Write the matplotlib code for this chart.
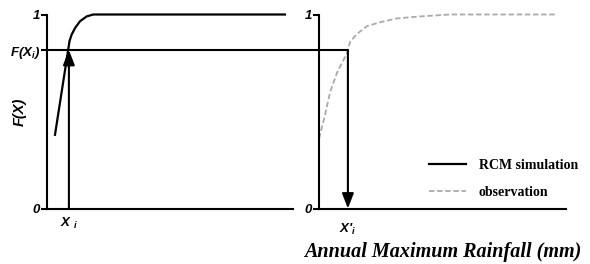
import matplotlib
matplotlib.use("Agg")
import matplotlib.pyplot as plt
from matplotlib.patches import ConnectionPatch
from matplotlib.lines import Line2D

# CDF of RCM simulation (left panel)
sim_x = [3.25, 8.6, 9.15, 10.0, 11.4, 13.4, 16.1, 18.8, 21.5, 96.7]
sim_F = [0.38, 0.817, 0.863, 0.896, 0.93, 0.965, 0.99, 1.0, 1.0, 1.0]

# CDF of observation (right panel)
obs_x = [0, 2.4, 4.5, 7.3, 11.3, 12.6, 15.4, 19.4, 24.7, 31.6, 40.9, 53.0, 96.4]
obs_F = [0.36, 0.48, 0.6, 0.7, 0.8, 0.86, 0.9, 0.94, 0.96, 0.98, 0.99, 1.0, 1.0]

x_i = 8.9        # X_i on the simulation axis
x_i_obs = 11.7   # X'_i on the observation axis
F_xi = 0.817     # F(X_i)

plt.rcParams['font.family'] = ['Liberation Sans', 'DejaVu Sans']
plt.rcParams['mathtext.fontset'] = 'custom'
plt.rcParams['mathtext.it'] = 'Liberation Sans:italic:bold'
plt.rcParams['mathtext.rm'] = 'Liberation Sans:bold'

tick_font = dict(family='Liberation Sans', weight='bold', style='italic', size=9.5)
gray = '#aaaaaa'
arrow = dict(arrowstyle='-|>,head_length=0.9,head_width=0.35',
             color='k', lw=1.5, shrinkA=0, shrinkB=0, mutation_scale=10)

fig = plt.figure(figsize=(5.9, 2.64), dpi=100)
ax1 = fig.add_axes([47 / 590, 55.5 / 264, 246 / 590, 194 / 264])
ax2 = fig.add_axes([319 / 590, 55.5 / 264, 247 / 590, 194 / 264])

for ax in (ax1, ax2):
    ax.set_xlim(0, 100)
    ax.set_ylim(0, 1)
    ax.spines['top'].set_visible(False)
    ax.spines['right'].set_visible(False)
    ax.spines['left'].set_linewidth(1.5)
    ax.spines['bottom'].set_linewidth(1.5)
    ax.tick_params(axis='y', length=4, width=1.5, pad=1)
    ax.tick_params(axis='x', length=0)

# left panel: simulation
ax1.plot(sim_x, sim_F, color='k', lw=1.6, clip_on=False)
ax1.annotate('', xy=(x_i, F_xi), xytext=(x_i, 0), arrowprops=arrow)
ax1.set_yticks([0, F_xi, 1])
ax1.set_yticklabels(['0', r'F(X$_i$)', '1'], fontdict=tick_font)
ax1.set_xticks([x_i])
ax1.set_xticklabels([r'X $_i$'], fontdict=tick_font)
ax1.tick_params(axis='x', pad=5)
ax1.set_ylabel('F(X)', family='Liberation Sans', weight='bold',
               style='italic', size=10.5)
ax1.yaxis.set_label_coords(-0.082, 0.5)

# right panel: observation
ax2.plot(obs_x, obs_F, color=gray, lw=1.3, ls=(0, (3, 1.5)), clip_on=False)
ax2.annotate('', xy=(x_i_obs, 0), xytext=(x_i_obs, F_xi), arrowprops=arrow)
ax2.set_yticks([0, 1])
ax2.set_yticklabels(['0', '1'], fontdict=tick_font)
ax2.set_xticks([x_i_obs])
ax2.set_xticklabels([r"X'$_i$"], fontdict=tick_font)
ax2.tick_params(axis='x', pad=10)
ax2.set_xlabel('Annual Maximum Rainfall (mm)', family='Liberation Serif',
               weight='bold', style='italic', size=14.5, labelpad=3)

# horizontal line F(X_i) from left axis across to the observation curve
con = ConnectionPatch(xyA=(0, F_xi), coordsA=ax1.transData,
                      xyB=(x_i_obs, F_xi), coordsB=ax2.transData,
                      color='k', lw=1.5)
fig.add_artist(con)

handles = [Line2D([], [], color='k', lw=1.6),
           Line2D([], [], color=gray, lw=1.3, ls=(0, (3, 1.5)))]
ax2.legend(handles, ['RCM simulation', 'observation'], frameon=False,
           loc='upper left', bbox_to_anchor=(0.445, 0.255),
           borderpad=0, borderaxespad=0, handlelength=2.7, handletextpad=0.9,
           labelspacing=1.0,
           prop=dict(family='Liberation Serif', weight='bold', size=10))

fig.savefig('out.png', dpi=100)
